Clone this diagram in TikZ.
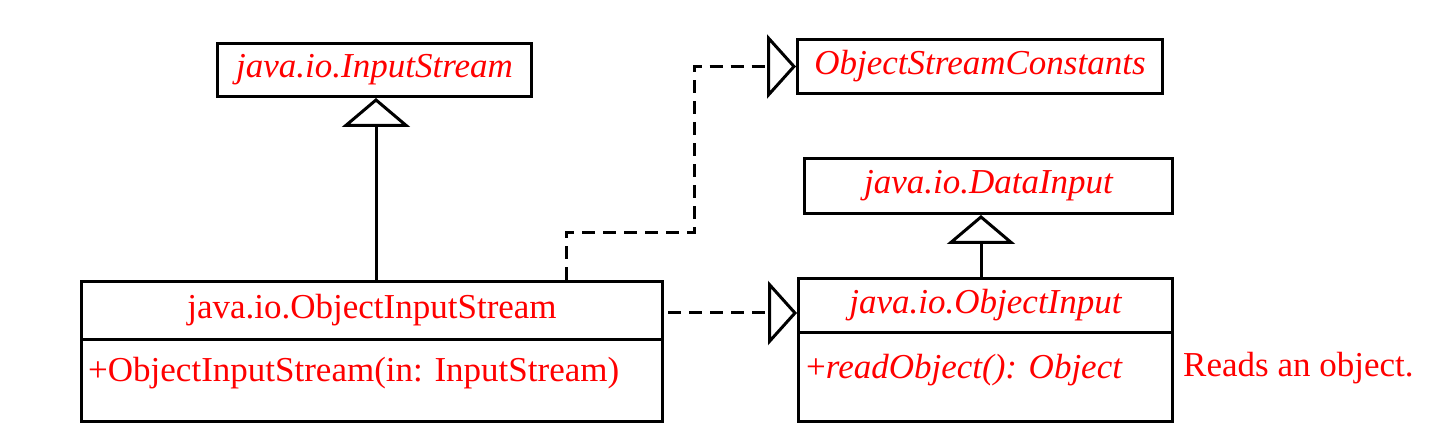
\documentclass[tikz,border=0pt]{standalone}
\usepackage{fontspec}
\setmainfont{Liberation Serif}
\usetikzlibrary{arrows.meta}
\definecolor{txtred}{RGB}{255,0,0}
\tikzset{
  umlbox/.style={draw, line width=3pt, rectangle, inner sep=0pt, anchor=north west,
    font=\fontsize{35}{42}\selectfont, text=txtred},
  lbl/.style={inner sep=0pt, anchor=base west, font=\fontsize{35}{42}\selectfont, text=txtred},
  inherit/.style={line width=3pt, -{Triangle[open, length=29pt, width=68pt, line width=3pt]}},
  realize/.style={line width=3pt, dash pattern=on 13pt off 8pt, -{Triangle[open, length=29pt, width=64pt, line width=3pt]}}
}
\begin{document}
\begin{tikzpicture}[x=1pt, y=-1pt]
\useasboundingbox (0,0) rectangle (1452,446);
% boxes
\node[umlbox, minimum width=314pt, minimum height=53pt] (is) at (216,42) {\itshape java.io.InputStream};
\node[umlbox, minimum width=365pt, minimum height=54pt] (osc) at (796,38) {\itshape ObjectStreamConstants};
\node[umlbox, minimum width=368pt, minimum height=55pt] (di) at (803,157) {\itshape java.io.DataInput};
\node[umlbox, minimum width=581pt, minimum height=58pt] (oist) at (80,280) {java.io.ObjectInputStream};
\node[umlbox, minimum width=581pt, minimum height=82pt] (oism) at (80,338) {};
\node[umlbox, minimum width=374pt, minimum height=54pt] (oit) at (797,277) {\itshape java.io.ObjectInput};
\node[umlbox, minimum width=374pt, minimum height=89pt] (oim) at (797,331) {};
% member texts
\node[lbl] (oismt) at (88,382) {+ObjectInputStream(in: InputStream)};
\node[lbl] (oimt) at (806,379) {+\textit{readObject(): Object}};
\node[lbl] (note) at (1183,377) {Reads an object.};
% connectors
\coordinate (a1) at (376,280);
\draw[inherit] (a1) -- (a1 |- is.south);
\coordinate (a2) at (981,277);
\draw[inherit] (a2) -- (a2 |- di.south);
\coordinate (d1) at (566,280);
\coordinate (d2) at (694,233);
\draw[realize] (d1) |- (d2) |- (osc.west);
\coordinate (e1) at (668,313);
\draw[realize] (e1) -- (e1 -| oit.west);
\end{tikzpicture}
\end{document}
